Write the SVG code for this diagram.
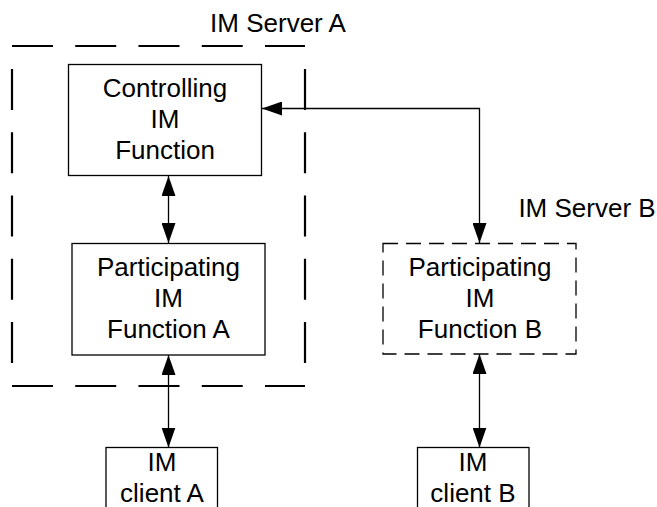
<svg xmlns="http://www.w3.org/2000/svg" width="657" height="507" viewBox="0 0 657 507">
<defs>
<style>
text{font-family:"Liberation Sans",Arial,sans-serif;font-size:26px;fill:#000;text-anchor:middle}
.node{fill:#fff;stroke:#000;stroke-width:1.3}
.dnode{fill:#fff;stroke:#000;stroke-width:1.3;stroke-dasharray:15 8}
.grp{stroke:#000;stroke-width:2.2;stroke-dasharray:41 22.25;fill:none}
.conn{stroke:#000;stroke-width:1.3;fill:none}
</style>
<marker id="ah" viewBox="0 0 20 14" refX="20" refY="7" markerWidth="20" markerHeight="14" markerUnits="userSpaceOnUse" orient="auto-start-reverse">
<path d="M0,0 L20,7 L0,14 Z" fill="#000"/>
</marker>
</defs>
<rect width="657" height="507" fill="#fff"/>
<g id="server-a">
<line class="grp" x1="12" y1="46" x2="305" y2="46"/>
<line class="grp" x1="12" y1="386" x2="305" y2="386"/>
<line class="grp" x1="12" y1="69" x2="12" y2="363"/>
<line class="grp" x1="305" y1="69" x2="305" y2="363"/>
<text x="278" y="32" style="text-anchor:middle">IM Server A</text>
</g>
<g id="server-b-label">
<text x="587" y="217">IM Server B</text>
</g>
<g id="connectors">
<line class="conn" x1="168.5" y1="176" x2="168.5" y2="243" marker-start="url(#ah)" marker-end="url(#ah)"/>
<line class="conn" x1="168.5" y1="355" x2="168.5" y2="447.5" marker-start="url(#ah)" marker-end="url(#ah)"/>
<line class="conn" x1="479.5" y1="354" x2="479.5" y2="447.5" marker-start="url(#ah)" marker-end="url(#ah)"/>
<polyline class="conn" points="262,108.5 479.5,108.5 479.5,243" marker-start="url(#ah)" marker-end="url(#ah)"/>
</g>
<g id="controlling">
<rect class="node" x="68.5" y="64.5" width="193" height="111"/>
<text x="165" y="97">Controlling</text>
<text x="165" y="128">IM</text>
<text x="165" y="159">Function</text>
</g>
<g id="participating-a">
<rect class="node" x="72" y="243.5" width="193" height="111.5"/>
<text x="168.5" y="276">Participating</text>
<text x="168.5" y="307">IM</text>
<text x="168.5" y="338">Function A</text>
</g>
<g id="participating-b">
<rect class="dnode" x="383" y="243.5" width="193" height="110.5"/>
<text x="480" y="276">Participating</text>
<text x="480" y="307">IM</text>
<text x="480" y="338">Function B</text>
</g>
<g id="client-a">
<rect class="node" x="106" y="447.5" width="111.5" height="80"/>
<text x="162" y="471">IM</text>
<text x="162" y="502">client A</text>
</g>
<g id="client-b">
<rect class="node" x="417.5" y="447.5" width="111.5" height="80"/>
<text x="473" y="471">IM</text>
<text x="473" y="502">client B</text>
</g>
</svg>
